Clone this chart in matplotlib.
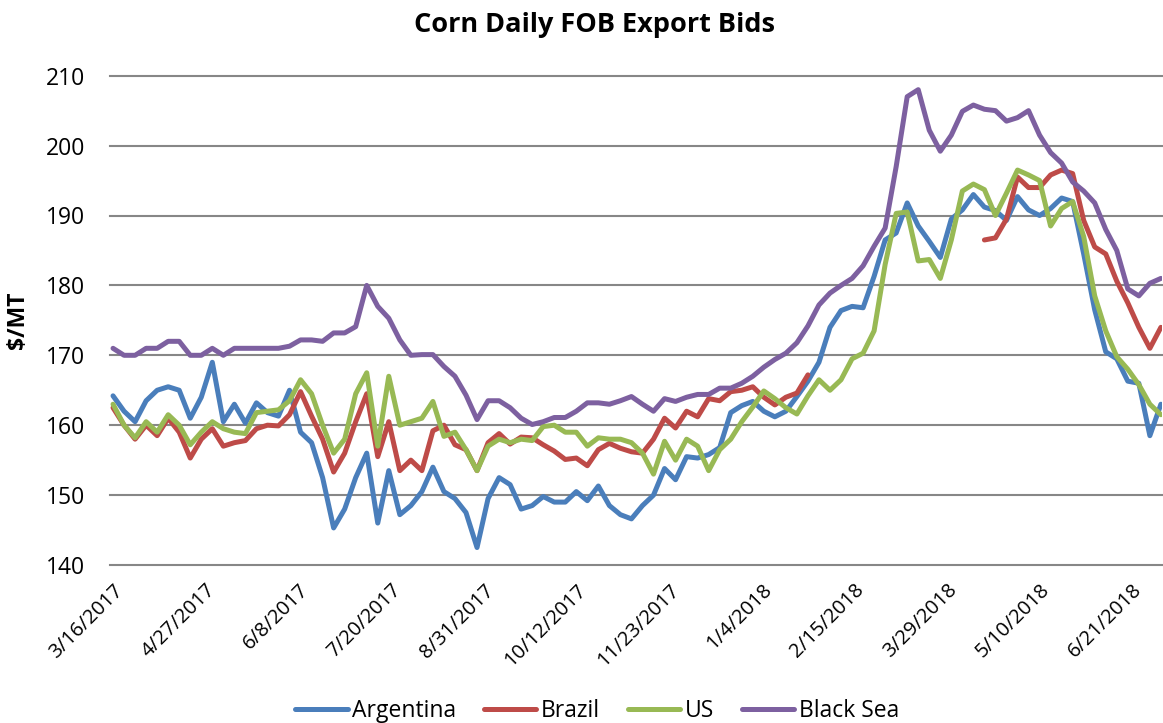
import numpy as np
import pandas as pd
import matplotlib
matplotlib.use("Agg")
import matplotlib.pyplot as plt

plt.rcParams['font.family'] = ['Open Sans', 'DejaVu Sans']

# bids sampled every 5 days from the chart, $/MT
dates = pd.date_range("2017-03-16", periods=96, freq="5D")

argentina = [
    164.2, 162, 160.5, 163.5, 165, 165.5, 165, 161, 164, 169,
    160.5, 163, 160.3, 163.2, 161.8, 161.3, 165, 159, 157.5, 152.5,
    145.3, 148, 152.5, 156, 146, 153.5, 147.2, 148.5, 150.5, 154,
    150.5, 149.5, 147.5, 142.5, 149.5, 152.5, 151.5, 148, 148.5, 149.8,
    149, 149, 150.5, 149.2, 151.3, 148.5, 147.2, 146.6, 148.5, 150,
    153.8, 152.2, 155.5, 155.3, 155.8, 156.8, 161.8, 162.8, 163.4, 162,
    161.2, 162, 164.1, 166.3, 169, 174, 176.4, 177, 176.8, 181.3,
    186.5, 187.5, 191.8, 188.5, 186.3, 184, 189.5, 190.8, 193, 191.2,
    190.7, 189.3, 192.7, 190.8, 190, 191, 192.5, 192, 184.5, 176.5,
    170.5, 169.5, 166.3, 166, 158.5, 163,
]

brazil = [
    162.5, 160, 158, 160, 158.5, 161, 159, 155.3, 158, 159.5,
    157, 157.5, 157.8, 159.5, 160, 159.9, 161.5, 164.8, 161.3, 158,
    153.3, 156, 160.5, 164.5, 155.5, 160.5, 153.5, 155, 153.5, 159.2,
    160, 157.2, 156.5, 153.5, 157.5, 158.8, 157.3, 158.3, 158.2, 157.2,
    156.3, 155.1, 155.3, 154.2, 156.5, 157.4, 156.7, 156.2, 156, 158,
    161, 159.6, 162, 161.2, 163.8, 163.5, 164.8, 165, 165.5, 164,
    162.9, 164, 164.6, 167.2, None, None, None, None, None, None,
    None, None, None, None, None, None, None, None, None, 186.5,
    186.8, 189.5, 195.5, 194, 194, 195.8, 196.5, 196, 189.3, 185.5,
    184.5, 180.6, 177.5, 174, 171, 174,
]

us = [
    163, 160, 158.2, 160.5, 159, 161.5, 160, 157.2, 159, 160.5,
    159.5, 159, 158.8, 161.8, 162, 162.2, 163.5, 166.5, 164.5, 160,
    156, 158, 164.5, 167.5, 157, 167, 160, 160.5, 161, 163.4,
    158.4, 159, 156.5, 153.5, 157, 158, 157.5, 158, 157.8, 159.8,
    160, 159, 159, 157, 158.2, 158, 158, 157.5, 156, 153,
    157.7, 155, 158, 157, 153.5, 156.5, 158, 160.5, 162.6, 164.9,
    163.8, 162.5, 161.6, 164.2, 166.5, 165, 166.5, 169.5, 170.3, 173.5,
    183, 190.3, 190.5, 183.5, 183.7, 181, 186.5, 193.5, 194.5, 193.7,
    190, 193.2, 196.5, 195.8, 195, 188.5, 191, 192, 187, 178.5,
    173.5, 169.8, 168, 165.8, 163, 161.5,
]

black_sea = [
    171, 170, 170, 171, 171, 172, 172, 170, 170, 171,
    170, 171, 171, 171, 171, 171, 171.3, 172.2, 172.2, 172,
    173.2, 173.2, 174.1, 180, 177, 175.3, 172.2, 170, 170.1, 170.1,
    168.4, 167, 164.3, 160.8, 163.5, 163.5, 162.5, 161, 160.1, 160.5,
    161.1, 161.1, 162, 163.2, 163.2, 163, 163.5, 164.1, 163, 162,
    163.8, 163.4, 164, 164.4, 164.4, 165.3, 165.3, 166, 167, 168.3,
    169.4, 170.3, 171.8, 174.2, 177.2, 178.9, 180, 181, 182.8, 185.6,
    188.2, 197, 207, 208, 202.2, 199.2, 201.5, 204.9, 205.8, 205.2,
    205, 203.5, 204, 205, 201.5, 199, 197.5, 194.8, 193.5, 191.8,
    188, 185, 179.5, 178.5, 180.3, 181,
]

series_names = ["Argentina", "Brazil", "US", "Black Sea"]
colors = ["#4A7EBB", "#BE4B48", "#98B954", "#7D60A0"]

tick_dates = pd.date_range("2017-03-16", periods=12, freq="42D")
tick_labels = [f"{d.month}/{d.day}/{d.year}" for d in tick_dates]
y_ticks = [140, 150, 160, 170, 180, 190, 200, 210]

W, H = 1163, 723
fig = plt.figure(figsize=(W / 100, H / 100), dpi=100)
ax = fig.add_axes([110 / W, 1 - 565 / H, (1162 - 110) / W, (565 - 75.7) / H])

for yv in y_ticks:
    ax.axhline(yv, color="#878787", lw=1.5, zorder=0, clip_on=False)

all_series = [argentina, brazil, us, black_sea]
for name, vals, c in zip(series_names, all_series, colors):
    arr = np.array([np.nan if v is None else v for v in vals], dtype=float)
    ax.plot(dates, arr, color=c, lw=3.6, label=name, solid_capstyle="round",
            solid_joinstyle="round")

ax.set_ylim(140, 210)
ax.set_xlim(pd.Timestamp("2017-03-14 15:00"), pd.Timestamp("2018-07-04 12:00"))
ax.set_yticks(y_ticks)
ax.set_xticks(tick_dates)
ax.set_xticklabels(tick_labels, rotation=45, ha="right", va="top",
                   rotation_mode="anchor")
ax.tick_params(axis="both", length=0)
ax.tick_params(axis="y", pad=18, labelsize=16.5)
ax.tick_params(axis="x", pad=11, labelsize=14.5)
for s in ax.spines.values():
    s.set_visible(False)

fig.text(18 / W, 1 - 320 / H, "$/MT", rotation=90, fontsize=16.5,
         fontweight="bold", ha="center", va="center")
fig.text(594 / W, 1 - 25 / H, "Corn Daily FOB Export Bids", fontsize=19.5,
         fontweight="bold", ha="center", va="center")

fig.legend(loc="center", bbox_to_anchor=(597 / W, 1 - 711 / H), ncol=4,
           frameon=False, fontsize=16.5, handlelength=2.3, handletextpad=0.2,
           columnspacing=1.2)

fig.savefig("out.png", dpi=100)
